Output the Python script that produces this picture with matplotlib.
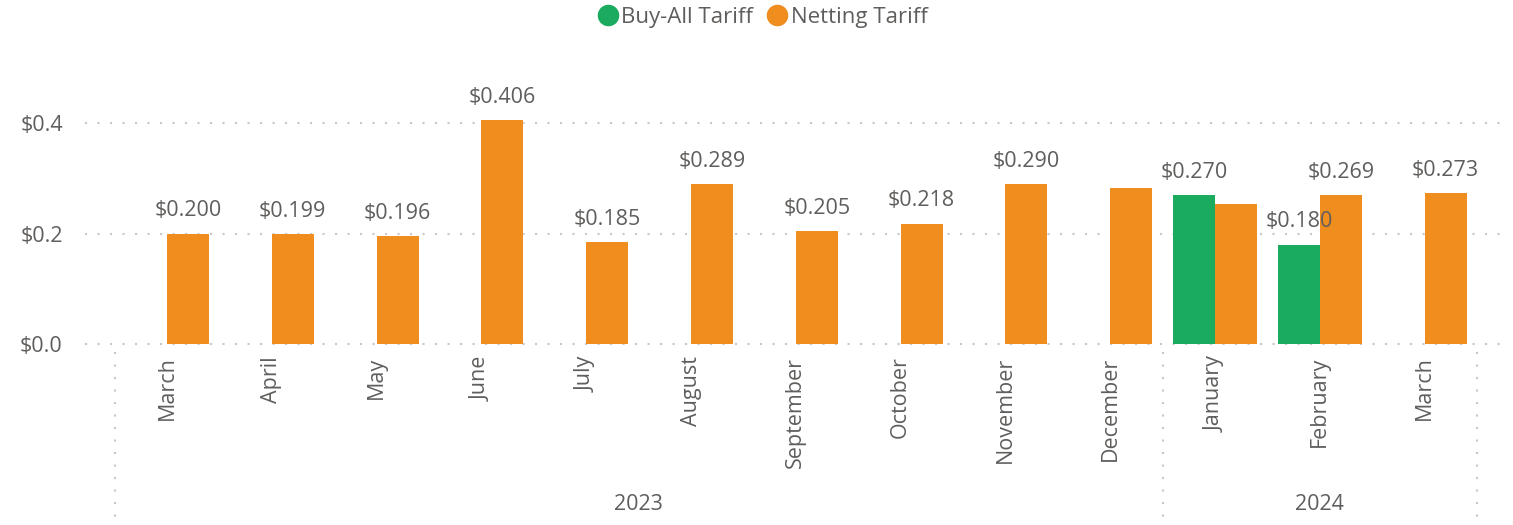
import matplotlib
matplotlib.use('Agg')
import matplotlib.pyplot as plt
from matplotlib.lines import Line2D
import numpy as np

# data
months = ["March", "April", "May", "June", "July", "August", "September",
          "October", "November", "December", "January", "February", "March"]
years = ["2023", "2024"]
year_counts = [10, 3]
buy_all = [None, None, None, None, None, None, None, None, None, None, 0.270, 0.180, None]
netting = [0.200, 0.199, 0.196, 0.406, 0.185, 0.289, 0.205, 0.218, 0.290, 0.283, 0.253, 0.269, 0.273]
# Power BI hid these labels (overlap)
netting_show = [True] * 9 + [False, False, True, True]

green = "#1AAB5F"
orange = "#F08D1F"
txt = "#605E5C"
grid_c = "#C8C8C8"

plt.rcParams['font.family'] = ['Open Sans', 'DejaVu Sans']

fig = plt.figure(figsize=(15.13, 5.25), dpi=100)
ax = fig.add_axes([85 / 1513, 1 - 344 / 525, (1505 - 85) / 1513, (344 - 95.4) / 525])

x = np.arange(len(months))
w = 0.4
fs = 15.5
for i in x:
    if buy_all[i] is not None:
        ax.bar(i - w / 2, buy_all[i], w, color=green, zorder=3)
        ax.text(i - w / 2, buy_all[i] + 0.022, "${:.3f}".format(buy_all[i]),
                ha="center", va="bottom", fontsize=fs, color=txt, zorder=4)
    ax.bar(i + w / 2, netting[i], w, color=orange, zorder=3)
    if netting_show[i]:
        ax.text(i + w / 2, netting[i] + 0.022, "${:.3f}".format(netting[i]),
                ha="center", va="bottom", fontsize=fs, color=txt, zorder=4)

ax.set_xlim((85 - 167) / 104.8, (1505 - 167) / 104.8)
ax.set_ylim(0, 0.45)
ax.set_yticks([0, 0.2, 0.4])
ax.set_yticklabels(["$0.0", "$0.2", "$0.4"])
ax.tick_params(axis="y", length=0, labelsize=fs, labelcolor=txt, pad=16)
ax.set_xticks([])
for s in ax.spines.values():
    s.set_visible(False)
for yv in [0, 0.2, 0.4]:
    ax.axhline(yv, color=grid_c, lw=1.5, ls=(0, (1, 5)), zorder=1, clip_on=False)

# month labels
for i, m in enumerate(months):
    ax.annotate(m, (i, 0), xytext=(0, -9), textcoords="offset points",
                rotation=90, ha="center", va="top", fontsize=fs, color=txt,
                annotation_clip=False)

# year groups and dividers
bounds = [-0.5]
for n in year_counts:
    bounds.append(bounds[-1] + n)
for b in bounds:
    ax.plot([b, b], [-0.015, -0.33], color=grid_c, lw=1.5, ls=(0, (1, 5)),
            clip_on=False, zorder=1)
for k, yr in enumerate(years):
    ax.text((bounds[k] + bounds[k + 1]) / 2, -0.29, yr, ha="center", va="center",
            fontsize=fs, color=txt, clip_on=False)

handles = [Line2D([], [], marker="o", ls="", color=green, markersize=14.5),
           Line2D([], [], marker="o", ls="", color=orange, markersize=14.5)]
fig.legend(handles, ["Buy-All Tariff", "Netting Tariff"], loc="center",
           bbox_to_anchor=(762 / 1513, 1 - 17 / 525), ncol=2, frameon=False,
           fontsize=fs + 0.5, labelcolor=txt, handletextpad=0.1, columnspacing=0.6,
           handlelength=1.0)

fig.savefig("out.png", dpi=100)
